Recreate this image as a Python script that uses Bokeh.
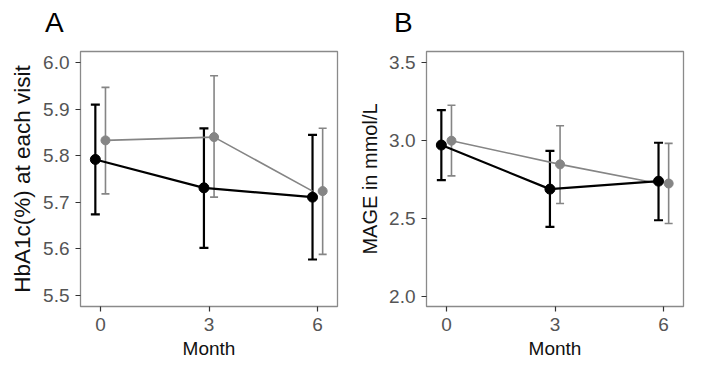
from bokeh.plotting import figure
from bokeh.models import ColumnDataSource, Whisker, TeeHead, Range1d, FixedTicker, Div
from bokeh.layouts import row, column
from bokeh.embed import file_html
from bokeh.resources import INLINE

# ---------------- data ----------------
months = [0, 3, 6]
month_labels = ["0", "3", "6"]

# Panel A: HbA1c (%)
hba_black_mean = [5.792, 5.731, 5.711]
hba_black_low = [5.674, 5.602, 5.577]
hba_black_high = [5.910, 5.859, 5.845]
hba_grey_mean = [5.833, 5.840, 5.724]
hba_grey_low = [5.718, 5.711, 5.588]
hba_grey_high = [5.947, 5.972, 5.859]
hba_ticks = [5.5, 5.6, 5.7, 5.8, 5.9, 6.0]
hba_tick_labels = ["5.5", "5.6", "5.7", "5.8", "5.9", "6.0"]

# Panel B: MAGE (mmol/L)
mage_black_mean = [2.970, 2.687, 2.738]
mage_black_low = [2.745, 2.444, 2.487]
mage_black_high = [3.195, 2.933, 2.985]
mage_grey_mean = [2.998, 2.846, 2.723]
mage_grey_low = [2.772, 2.595, 2.466]
mage_grey_high = [3.226, 3.094, 2.981]
mage_ticks = [2.0, 2.5, 3.0, 3.5]
mage_tick_labels = ["2.0", "2.5", "3.0", "3.5"]

# dodge offsets (months) for the two groups
dodge_black = [-0.14, -0.14, -0.14]
dodge_grey = [0.14, 0.14, 0.14]
line_dodge_grey = [0.14, 0.14, -0.14]

BLACK = "#000000"
GREY = "#858585"
FONT = "Liberation Sans"
HEADER_H = 40


def add_series(p, mean, low, high, dodge, line_dodge, color, lw, cap, size):
    xs = [m + d for m, d in zip(months, dodge)]
    lxs = [m + d for m, d in zip(months, line_dodge)]
    src = ColumnDataSource(dict(x=xs, mean=mean, low=low, high=high))
    w = Whisker(base="x", upper="high", lower="low", source=src,
                line_color=color, line_width=lw,
                upper_head=TeeHead(size=cap, line_color=color, line_width=lw),
                lower_head=TeeHead(size=cap, line_color=color, line_width=lw))
    p.add_layout(w)
    p.line(lxs, mean, line_color=color, line_width=lw)
    p.scatter("x", "mean", source=src, size=size, fill_color=color, line_color=color)


def make_panel(ylabel, yr, ticks, tick_labels, black, grey,
               width, border_left, border_right, ylabel_size):
    p = figure(width=width, height=361 - HEADER_H, output_backend="svg", toolbar_location=None,
               x_range=Range1d(-0.55, 6.55), y_range=Range1d(*yr),
               min_border_left=border_left, min_border_right=border_right,
               min_border_top=51 - HEADER_H, min_border_bottom=55)
    p.grid.visible = False
    p.outline_line_color = "#8a8a8a"
    p.outline_line_width = 1.3
    p.background_fill_color = "white"
    p.border_fill_color = "white"

    add_series(p, *grey, dodge_grey, line_dodge_grey, GREY, 1.6, 8, 9)
    add_series(p, *black, dodge_black, dodge_black, BLACK, 2.2, 9, 10)

    p.xaxis.ticker = FixedTicker(ticks=months)
    p.xaxis.major_label_overrides = {m: l for m, l in zip(months, month_labels)}
    p.yaxis.ticker = FixedTicker(ticks=ticks)
    p.yaxis.major_label_overrides = {t: l for t, l in zip(ticks, tick_labels)}
    for ax in (p.xaxis, p.yaxis):
        ax.axis_line_color = None
        ax.major_tick_line_color = "#333333"
        ax.major_tick_line_width = 1.2
        ax.major_tick_out = 5
        ax.major_tick_in = 0
        ax.minor_tick_line_color = None
        ax.major_label_text_color = "#555555"
        ax.major_label_text_font = FONT
        ax.major_label_text_font_size = "19px"
        ax.major_label_standoff = 6
        ax.axis_label_text_font = FONT
        ax.axis_label_text_font_style = "normal"
        ax.axis_label_text_color = "#111111"
    p.xaxis.axis_label = "Month"
    p.xaxis.axis_label_text_font_size = "19px"
    p.xaxis.axis_label_standoff = 4
    p.yaxis.axis_label = ylabel
    p.yaxis.axis_label_text_font_size = ylabel_size
    p.yaxis.axis_label_standoff = 5
    return p


def header(letter, width, pad_left):
    return Div(text=letter, width=width, height=HEADER_H, margin=0,
               styles={"font-family": FONT, "font-size": "28px", "line-height": "1",
                       "color": "#000000", "padding-top": "9px",
                       "padding-left": f"{pad_left}px", "box-sizing": "border-box"})


pa = make_panel("HbA1c(%) at each visit", (5.476, 6.024), hba_ticks, hba_tick_labels,
                (hba_black_mean, hba_black_low, hba_black_high),
                (hba_grey_mean, hba_grey_low, hba_grey_high),
                351, 80, 14, "22.5px")
pb = make_panel("MAGE in mmol/L", (1.933, 3.571), mage_ticks, mage_tick_labels,
                (mage_black_mean, mage_black_low, mage_black_high),
                (mage_grey_mean, mage_grey_low, mage_grey_high),
                343, 75, 11, "20px")

layout = column(row(header("A", 351, 45), header("B", 343, 43)), row(pa, pb))
open("out.html", "w").write(file_html(layout, INLINE))
